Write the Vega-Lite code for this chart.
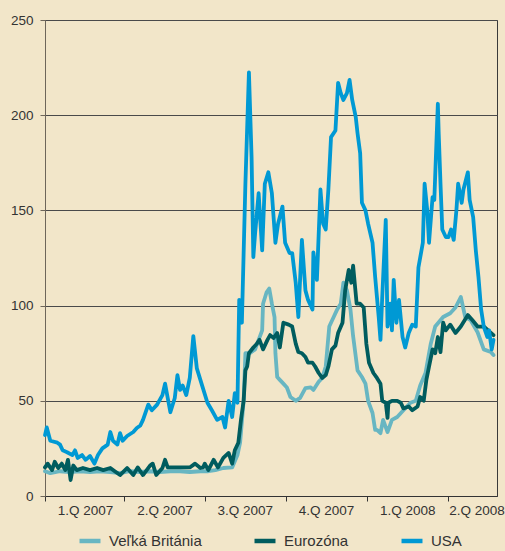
{
  "$schema": "https://vega.github.io/schema/vega-lite/v6.json",
  "width": 452,
  "height": 476,
  "autosize": "none",
  "padding": {"left": 45, "top": 20, "right": 8, "bottom": 55},
  "background": "#f2e6c9",
  "config": {
    "view": {"stroke": "#3a3a3a", "strokeWidth": 1},
    "font": "Liberation Sans",
    "axis": {"labelFont": "Liberation Sans", "labelFontSize": 13.5, "labelColor": "#333333"}
  },
  "data": {"values": [
    {"s":"Veľká Británia","d":0,"v":13},{"s":"Veľká Británia","d":6,"v":12},{"s":"Veľká Británia","d":17,"v":13},{"s":"Veľká Británia","d":28,"v":12.6},{"s":"Veľká Británia","d":40,"v":13},{"s":"Veľká Británia","d":51,"v":12.6},{"s":"Veľká Británia","d":62,"v":13},{"s":"Veľká Británia","d":74,"v":12.6},{"s":"Veľká Británia","d":85,"v":12},{"s":"Veľká Británia","d":96,"v":13},{"s":"Veľká Británia","d":108,"v":12.6},{"s":"Veľká Británia","d":119,"v":13},{"s":"Veľká Británia","d":130,"v":12.6},{"s":"Veľká Británia","d":142,"v":13},{"s":"Veľká Británia","d":153,"v":13},{"s":"Veľká Británia","d":164,"v":12.6},{"s":"Veľká Británia","d":176,"v":13},{"s":"Veľká Británia","d":185,"v":13},{"s":"Veľká Británia","d":193,"v":13.6},{"s":"Veľká Británia","d":202,"v":14.7},{"s":"Veľká Británia","d":212,"v":15},{"s":"Veľká Británia","d":218,"v":21.5},{"s":"Veľká Británia","d":221,"v":28},{"s":"Veľká Británia","d":225,"v":50},{"s":"Veľká Británia","d":227,"v":75},{"s":"Veľká Británia","d":232,"v":75},{"s":"Veľká Británia","d":238,"v":77},{"s":"Veľká Británia","d":242,"v":82},{"s":"Veľká Británia","d":246,"v":87},{"s":"Veľká Británia","d":247,"v":101},{"s":"Veľká Británia","d":251,"v":107},{"s":"Veľká Británia","d":254,"v":109},{"s":"Veľká Británia","d":257,"v":101},{"s":"Veľká Británia","d":260,"v":94},{"s":"Veľká Británia","d":261,"v":75},{"s":"Veľká Británia","d":263,"v":62.5},{"s":"Veľká Británia","d":266,"v":61},{"s":"Veľká Británia","d":270,"v":59},{"s":"Veľká Británia","d":274,"v":57},{"s":"Veľká Británia","d":278,"v":52},{"s":"Veľká Británia","d":284,"v":50},{"s":"Veľká Británia","d":289,"v":51.5},{"s":"Veľká Británia","d":295,"v":56.7},{"s":"Veľká Británia","d":301,"v":57},{"s":"Veľká Británia","d":304,"v":55.7},{"s":"Veľká Británia","d":310,"v":60},{"s":"Veľká Británia","d":314,"v":62},{"s":"Veľká Británia","d":318,"v":68},{"s":"Veľká Británia","d":322,"v":89},{"s":"Veľká Británia","d":327,"v":94},{"s":"Veľká Británia","d":331,"v":98},{"s":"Veľká Británia","d":335,"v":101},{"s":"Veľká Británia","d":338,"v":112},{"s":"Veľká Británia","d":342,"v":108},{"s":"Veľká Británia","d":346,"v":98},{"s":"Veľká Británia","d":349,"v":84},{"s":"Veľká Británia","d":354,"v":66},{"s":"Veľká Británia","d":359,"v":62.5},{"s":"Veľká Británia","d":363,"v":59},{"s":"Veľká Británia","d":366,"v":50},{"s":"Veľká Británia","d":371,"v":43.6},{"s":"Veľká Británia","d":374,"v":34.7},{"s":"Veľká Británia","d":376,"v":34.7},{"s":"Veľká Británia","d":380,"v":33},{"s":"Veľká Británia","d":383,"v":40},{"s":"Veľká Británia","d":388,"v":33.6},{"s":"Veľká Británia","d":393,"v":40},{"s":"Veľká Británia","d":399,"v":41.5},{"s":"Veľká Británia","d":406,"v":45},{"s":"Veľká Británia","d":414,"v":49},{"s":"Veľká Británia","d":420,"v":50},{"s":"Veľká Británia","d":425,"v":58},{"s":"Veľká Británia","d":431,"v":64.6},{"s":"Veľká Británia","d":437,"v":80},{"s":"Veľká Británia","d":442,"v":89},{"s":"Veľká Británia","d":451,"v":94},{"s":"Veľká Británia","d":459,"v":96},{"s":"Veľká Británia","d":465,"v":99},{"s":"Veľká Británia","d":471,"v":104.5},{"s":"Veľká Británia","d":476,"v":94},{"s":"Veľká Británia","d":482,"v":92.4},{"s":"Veľká Británia","d":490,"v":86},{"s":"Veľká Británia","d":497,"v":77},{"s":"Veľká Británia","d":505,"v":75.6},{"s":"Veľká Británia","d":508,"v":74},
    {"s":"Eurozóna","d":0,"v":15},{"s":"Eurozóna","d":3,"v":17},{"s":"Eurozóna","d":8,"v":13.6},{"s":"Eurozóna","d":11,"v":18},{"s":"Eurozóna","d":15,"v":14.7},{"s":"Eurozóna","d":19,"v":17},{"s":"Eurozóna","d":23,"v":13.6},{"s":"Eurozóna","d":26,"v":19},{"s":"Eurozóna","d":29,"v":8.4},{"s":"Eurozóna","d":32,"v":16},{"s":"Eurozóna","d":36,"v":13.6},{"s":"Eurozóna","d":43,"v":14.7},{"s":"Eurozóna","d":51,"v":13.6},{"s":"Eurozóna","d":59,"v":14.7},{"s":"Eurozóna","d":66,"v":13.6},{"s":"Eurozóna","d":74,"v":14.7},{"s":"Eurozóna","d":79,"v":13},{"s":"Eurozóna","d":85,"v":11},{"s":"Eurozóna","d":93,"v":14.7},{"s":"Eurozóna","d":100,"v":11},{"s":"Eurozóna","d":105,"v":15},{"s":"Eurozóna","d":111,"v":11},{"s":"Eurozóna","d":119,"v":16},{"s":"Eurozóna","d":122,"v":17},{"s":"Eurozóna","d":126,"v":11},{"s":"Eurozóna","d":133,"v":14.7},{"s":"Eurozóna","d":136,"v":19},{"s":"Eurozóna","d":139,"v":15},{"s":"Eurozóna","d":153,"v":15},{"s":"Eurozóna","d":164,"v":15},{"s":"Eurozóna","d":170,"v":17},{"s":"Eurozóna","d":176,"v":14.7},{"s":"Eurozóna","d":179,"v":15},{"s":"Eurozóna","d":181,"v":17},{"s":"Eurozóna","d":185,"v":13.6},{"s":"Eurozóna","d":191,"v":19},{"s":"Eurozóna","d":196,"v":15},{"s":"Eurozóna","d":202,"v":20},{"s":"Eurozóna","d":208,"v":22.6},{"s":"Eurozóna","d":212,"v":17},{"s":"Eurozóna","d":215,"v":24},{"s":"Eurozóna","d":219,"v":28},{"s":"Eurozóna","d":222,"v":40},{"s":"Eurozóna","d":225,"v":50},{"s":"Eurozóna","d":227,"v":66},{"s":"Eurozóna","d":229,"v":68},{"s":"Eurozóna","d":231,"v":75},{"s":"Eurozóna","d":236,"v":78},{"s":"Eurozóna","d":240,"v":80},{"s":"Eurozóna","d":243,"v":82},{"s":"Eurozóna","d":247,"v":77},{"s":"Eurozóna","d":252,"v":82},{"s":"Eurozóna","d":255,"v":84.5},{"s":"Eurozóna","d":259,"v":83},{"s":"Eurozóna","d":263,"v":85.6},{"s":"Eurozóna","d":266,"v":78},{"s":"Eurozóna","d":270,"v":91},{"s":"Eurozóna","d":276,"v":90},{"s":"Eurozóna","d":280,"v":89},{"s":"Eurozóna","d":284,"v":80},{"s":"Eurozóna","d":287,"v":75.6},{"s":"Eurozóna","d":291,"v":75},{"s":"Eurozóna","d":295,"v":73},{"s":"Eurozóna","d":298,"v":70},{"s":"Eurozóna","d":303,"v":70},{"s":"Eurozóna","d":306,"v":68},{"s":"Eurozóna","d":310,"v":64.6},{"s":"Eurozóna","d":314,"v":62},{"s":"Eurozóna","d":318,"v":63.5},{"s":"Eurozóna","d":321,"v":68},{"s":"Eurozóna","d":325,"v":77},{"s":"Eurozóna","d":329,"v":79},{"s":"Eurozóna","d":332,"v":85.6},{"s":"Eurozóna","d":337,"v":91},{"s":"Eurozóna","d":340,"v":108},{"s":"Eurozóna","d":344,"v":118.7},{"s":"Eurozóna","d":347,"v":112},{"s":"Eurozóna","d":349,"v":121},{"s":"Eurozóna","d":353,"v":101},{"s":"Eurozóna","d":357,"v":101},{"s":"Eurozóna","d":361,"v":99},{"s":"Eurozóna","d":364,"v":80},{"s":"Eurozóna","d":367,"v":70},{"s":"Eurozóna","d":372,"v":64.6},{"s":"Eurozóna","d":376,"v":62},{"s":"Eurozóna","d":380,"v":59},{"s":"Eurozóna","d":382,"v":50},{"s":"Eurozóna","d":386,"v":49},{"s":"Eurozóna","d":388,"v":41},{"s":"Eurozóna","d":389,"v":49},{"s":"Eurozóna","d":393,"v":50},{"s":"Eurozóna","d":399,"v":50},{"s":"Eurozóna","d":403,"v":49},{"s":"Eurozóna","d":406,"v":46},{"s":"Eurozóna","d":412,"v":47},{"s":"Eurozóna","d":416,"v":45},{"s":"Eurozóna","d":422,"v":47},{"s":"Eurozóna","d":425,"v":52},{"s":"Eurozóna","d":429,"v":50},{"s":"Eurozóna","d":432,"v":61},{"s":"Eurozóna","d":435,"v":68},{"s":"Eurozóna","d":439,"v":77},{"s":"Eurozóna","d":442,"v":75},{"s":"Eurozóna","d":445,"v":83.5},{"s":"Eurozóna","d":448,"v":75.6},{"s":"Eurozóna","d":451,"v":91},{"s":"Eurozóna","d":454,"v":87},{"s":"Eurozóna","d":459,"v":90},{"s":"Eurozóna","d":465,"v":85.6},{"s":"Eurozóna","d":471,"v":89},{"s":"Eurozóna","d":479,"v":95},{"s":"Eurozóna","d":484,"v":92.4},{"s":"Eurozóna","d":490,"v":89},{"s":"Eurozóna","d":497,"v":89},{"s":"Eurozóna","d":502,"v":87},{"s":"Eurozóna","d":508,"v":84.5},
    {"s":"USA","d":0,"v":32},{"s":"USA","d":2,"v":36},{"s":"USA","d":6,"v":29},{"s":"USA","d":14,"v":28},{"s":"USA","d":17,"v":27},{"s":"USA","d":20,"v":24},{"s":"USA","d":25,"v":23},{"s":"USA","d":31,"v":21.5},{"s":"USA","d":34,"v":24},{"s":"USA","d":37,"v":20},{"s":"USA","d":42,"v":21.5},{"s":"USA","d":46,"v":19},{"s":"USA","d":51,"v":21},{"s":"USA","d":56,"v":17},{"s":"USA","d":60,"v":21.5},{"s":"USA","d":65,"v":25},{"s":"USA","d":71,"v":27},{"s":"USA","d":74,"v":33.6},{"s":"USA","d":77,"v":29},{"s":"USA","d":82,"v":27},{"s":"USA","d":85,"v":33},{"s":"USA","d":88,"v":29},{"s":"USA","d":93,"v":31.5},{"s":"USA","d":100,"v":33.6},{"s":"USA","d":104,"v":35.7},{"s":"USA","d":108,"v":37},{"s":"USA","d":111,"v":40},{"s":"USA","d":117,"v":48},{"s":"USA","d":121,"v":45},{"s":"USA","d":127,"v":48},{"s":"USA","d":133,"v":53},{"s":"USA","d":136,"v":59},{"s":"USA","d":142,"v":44},{"s":"USA","d":147,"v":51.5},{"s":"USA","d":150,"v":63.5},{"s":"USA","d":153,"v":55.7},{"s":"USA","d":156,"v":58},{"s":"USA","d":160,"v":53},{"s":"USA","d":164,"v":62},{"s":"USA","d":168,"v":84},{"s":"USA","d":172,"v":67},{"s":"USA","d":178,"v":58},{"s":"USA","d":184,"v":49},{"s":"USA","d":189,"v":45},{"s":"USA","d":195,"v":40},{"s":"USA","d":201,"v":41.5},{"s":"USA","d":204,"v":36},{"s":"USA","d":208,"v":50},{"s":"USA","d":212,"v":41.5},{"s":"USA","d":215,"v":54},{"s":"USA","d":218,"v":49},{"s":"USA","d":220,"v":103},{"s":"USA","d":223,"v":91},{"s":"USA","d":227,"v":164},{"s":"USA","d":231,"v":222.5},{"s":"USA","d":234,"v":178},{"s":"USA","d":236,"v":125.5},{"s":"USA","d":238,"v":138},{"s":"USA","d":242,"v":159},{"s":"USA","d":246,"v":129},{"s":"USA","d":249,"v":164},{"s":"USA","d":253,"v":170},{"s":"USA","d":257,"v":159},{"s":"USA","d":261,"v":133},{"s":"USA","d":264,"v":143},{"s":"USA","d":269,"v":152},{"s":"USA","d":272,"v":133},{"s":"USA","d":277,"v":127.6},{"s":"USA","d":280,"v":127.6},{"s":"USA","d":284,"v":112},{"s":"USA","d":287,"v":94},{"s":"USA","d":291,"v":134.5},{"s":"USA","d":295,"v":108},{"s":"USA","d":298,"v":103},{"s":"USA","d":303,"v":98},{"s":"USA","d":304,"v":128},{"s":"USA","d":308,"v":113.5},{"s":"USA","d":312,"v":161},{"s":"USA","d":315,"v":143},{"s":"USA","d":318,"v":140},{"s":"USA","d":321,"v":161},{"s":"USA","d":324,"v":188.5},{"s":"USA","d":329,"v":192},{"s":"USA","d":332,"v":217},{"s":"USA","d":335,"v":211.6},{"s":"USA","d":338,"v":208},{"s":"USA","d":342,"v":211.6},{"s":"USA","d":345,"v":218.5},{"s":"USA","d":348,"v":208},{"s":"USA","d":352,"v":199},{"s":"USA","d":354,"v":190.6},{"s":"USA","d":357,"v":180},{"s":"USA","d":359,"v":154},{"s":"USA","d":363,"v":150},{"s":"USA","d":366,"v":143},{"s":"USA","d":371,"v":133},{"s":"USA","d":374,"v":115},{"s":"USA","d":378,"v":94},{"s":"USA","d":380,"v":82},{"s":"USA","d":382,"v":104.5},{"s":"USA","d":386,"v":145},{"s":"USA","d":388,"v":89},{"s":"USA","d":391,"v":101},{"s":"USA","d":393,"v":87},{"s":"USA","d":395,"v":113.5},{"s":"USA","d":398,"v":91},{"s":"USA","d":401,"v":103},{"s":"USA","d":405,"v":83.5},{"s":"USA","d":408,"v":78},{"s":"USA","d":412,"v":85.6},{"s":"USA","d":416,"v":90},{"s":"USA","d":420,"v":89},{"s":"USA","d":423,"v":120},{"s":"USA","d":428,"v":133},{"s":"USA","d":430,"v":164},{"s":"USA","d":433,"v":150},{"s":"USA","d":435,"v":133},{"s":"USA","d":439,"v":157},{"s":"USA","d":441,"v":155.5},{"s":"USA","d":445,"v":206},{"s":"USA","d":446,"v":190},{"s":"USA","d":448,"v":164},{"s":"USA","d":450,"v":140},{"s":"USA","d":454,"v":136},{"s":"USA","d":457,"v":136},{"s":"USA","d":460,"v":140},{"s":"USA","d":463,"v":134.5},{"s":"USA","d":466,"v":150},{"s":"USA","d":468,"v":164},{"s":"USA","d":472,"v":154},{"s":"USA","d":474,"v":161},{"s":"USA","d":479,"v":170},{"s":"USA","d":481,"v":155.5},{"s":"USA","d":485,"v":146.5},{"s":"USA","d":488,"v":129},{"s":"USA","d":491,"v":115},{"s":"USA","d":494,"v":98},{"s":"USA","d":497,"v":89},{"s":"USA","d":501,"v":83.5},{"s":"USA","d":503,"v":87},{"s":"USA","d":506,"v":77},{"s":"USA","d":508,"v":82}
  ]},
  "mark": {"type": "line", "strokeWidth": 3.8, "strokeJoin": "round", "strokeCap": "round"},
  "encoding": {
    "x": {
      "field": "d", "type": "quantitative",
      "scale": {"domain": [0, 512], "nice": false, "zero": false},
      "axis": {
        "title": null, "grid": false,
        "values": [0, 90, 181, 273, 365, 456],
        "labelExpr": "datum.value == 0 ? '1.Q 2007' : datum.value == 90 ? '2.Q 2007' : datum.value == 181 ? '3.Q 2007' : datum.value == 273 ? '4.Q 2007' : datum.value == 365 ? '1.Q 2008' : '2.Q 2008'",
        "labelAlign": "center", "labelBound": false, "labelFlush": false, "labelOverlap": false,
        "labelOffset": {"condition": {"test": "datum.value == 456", "value": 29}, "value": 40},
        "tickSize": 5, "tickColor": "#333333", "domainColor": "#333333",
        "labelPadding": 2
      }
    },
    "y": {
      "field": "v", "type": "quantitative",
      "scale": {"domain": [0, 250], "nice": false},
      "axis": {
        "title": null, "values": [0, 50, 100, 150, 200, 250],
        "grid": true, "gridColor": "#4a4a4a", "gridWidth": 1, "gridOpacity": 1,
        "tickSize": 5, "tickColor": "#6e665a", "domainColor": "#6e665a",
        "labelPadding": 7
      }
    },
    "color": {
      "field": "s", "type": "nominal",
      "scale": {"domain": ["Veľká Británia", "Eurozóna", "USA"], "range": ["#68b6c2", "#005c5e", "#0099d4"]},
      "legend": {
        "title": null, "orient": "none", "legendX": 32, "legendY": 508, "direction": "horizontal",
        "symbolType": "stroke", "symbolStrokeWidth": 4.5, "symbolSize": 440,
        "labelFontSize": 15, "labelColor": "#333333", "labelFont": "Liberation Sans",
        "columnPadding": 43, "labelOffset": 6
      }
    }
  }
}
